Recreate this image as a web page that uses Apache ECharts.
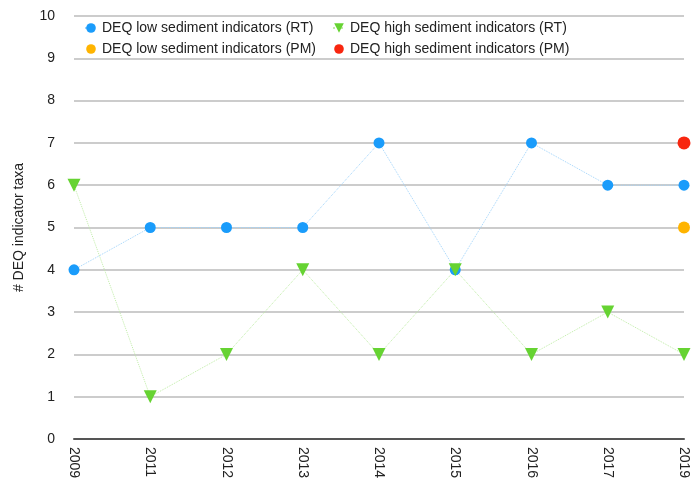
<!DOCTYPE html>
<html>
<head>
<meta charset="utf-8">
<script src="https://cdn.jsdelivr.net/npm/echarts@6/dist/echarts.min.js"></script>
<style>
html,body{margin:0;padding:0;background:#fff;}
#chart{width:691px;height:487px;}
</style>
</head>
<body>
<div id="chart"></div>
<script>
// data
var years = ['2009','2011','2012','2013','2014','2015','2016','2017','2019'];
var lowRT = [4,5,5,5,7,4,7,6,6];
var highRT = [6,1,2,4,2,4,2,3,2];
var lowPM = [null,null,null,null,null,null,null,null,5];
var highPM = [null,null,null,null,null,null,null,null,7];
var yTicks = [0,10,1]; // min, max, step

var blue = '#1a9cfb', green = '#66d332', orange = '#ffb400', red = '#f8260f';
var font = 'Liberation Sans, Arial, sans-serif';

var chart = echarts.init(document.getElementById('chart'));
var option = {
    animation: false,
    textStyle: {fontFamily: font},
    grid: {left: 74, right: 1, top: 16, bottom: 48},
    legend: [
        {
            orient: 'vertical', left: 79, top: 16, itemGap: 7,
            itemWidth: 12, itemHeight: 12,
            textStyle: {fontSize: 14, color: '#222', fontFamily: font},
            data: ['DEQ low sediment indicators (RT)', 'DEQ low sediment indicators (PM)']
        },
        {
            orient: 'vertical', left: 327, top: 16, itemGap: 7,
            itemWidth: 12, itemHeight: 12,
            textStyle: {fontSize: 14, color: '#222', fontFamily: font},
            data: ['DEQ high sediment indicators (RT)', 'DEQ high sediment indicators (PM)']
        }
    ],
    xAxis: {
        type: 'category',
        data: years,
        boundaryGap: false,
        axisLine: {lineStyle: {color: '#555', width: 2}},
        axisTick: {show: false},
        axisLabel: {rotate: -90, color: '#222', fontSize: 14, margin: 8, fontFamily: font},
        splitLine: {show: false}
    },
    yAxis: {
        type: 'value',
        min: yTicks[0], max: yTicks[1], interval: yTicks[2],
        name: '# DEQ indicator taxa',
        nameLocation: 'middle',
        nameGap: 48,
        nameTextStyle: {fontSize: 14, color: '#222', fontFamily: font},
        axisLine: {show: false},
        axisTick: {show: false},
        axisLabel: {color: '#222', fontSize: 14, margin: 19, fontFamily: font},
        splitLine: {lineStyle: {color: '#cccccc', width: 2}}
    },
    series: [
        {
            name: 'DEQ low sediment indicators (RT)',
            type: 'line', data: lowRT, clip: false,
            symbol: 'circle', symbolSize: 11,
            itemStyle: {color: blue},
            lineStyle: {color: '#a0d3fa', width: 1, type: 'dotted'},
            z: 3
        },
        {
            name: 'DEQ high sediment indicators (RT)',
            type: 'line', data: highRT, clip: false,
            symbol: 'triangle', symbolRotate: 180, symbolSize: 13,
            itemStyle: {color: green},
            lineStyle: {color: '#bfeca6', width: 1, type: 'dotted'},
            z: 3
        },
        {
            name: 'DEQ low sediment indicators (PM)',
            type: 'line', data: lowPM, clip: false,
            symbol: 'circle', symbolSize: 12,
            itemStyle: {color: orange},
            lineStyle: {width: 0},
            z: 3
        },
        {
            name: 'DEQ high sediment indicators (PM)',
            type: 'line', data: highPM, clip: false,
            symbol: 'circle', symbolSize: 13,
            itemStyle: {color: red},
            lineStyle: {width: 0},
            z: 3
        }
    ]
};
chart.setOption(option);
</script>
</body>
</html>
